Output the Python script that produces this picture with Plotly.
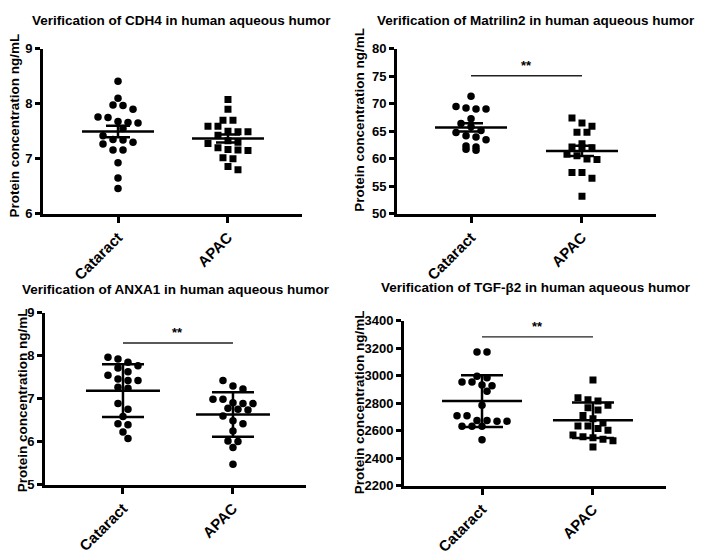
import numpy as np
import plotly.graph_objects as go

# ---------------- data ----------------
categories = ["Cataract", "APAC"]
titles = [
    "Verification of CDH4 in human aqueous humor",
    "Verification of Matrilin2 in human aqueous humor",
    "Verification of ANXA1 in human aqueous humor",
    "Verification of TGF-β2 in human aqueous humor",
]
y_label = "Protein concentration ng/mL"

cdh4_cataract = [8.41, 8.10, 7.98, 7.90, 7.97, 7.68, 7.66, 7.75, 7.76, 7.65, 7.55,
                 7.42, 7.30, 7.34, 7.35, 7.27, 7.16, 7.16, 6.93, 6.65, 6.46]
cdh4_apac = [8.08, 7.90, 7.70, 7.70, 7.59, 7.59, 7.50, 7.49, 7.43, 7.49, 7.30,
             7.33, 7.28, 7.16, 7.20, 7.15, 7.17, 7.02, 7.00, 6.80, 6.86]

matrilin2_cataract = [71.39, 69.52, 69.05, 69.05, 69.23, 67.29, 66.41, 65.83, 64.78,
                      65.13, 63.95, 63.48, 64.18, 62.14, 61.55, 61.73, 62.32]
matrilin2_apac = [67.41, 66.53, 65.94, 64.83, 64.83, 62.72, 62.00, 62.00, 62.14,
                  60.56, 59.86, 59.97, 60.84, 57.50, 56.45, 57.50, 53.18]

anxa1_cataract = [7.93, 7.97, 7.72, 7.85, 7.77, 7.55, 7.63, 7.43, 7.43, 7.46, 7.27,
                  7.25, 6.76, 6.89, 6.59, 6.42, 6.40, 6.23, 6.08]
anxa1_apac = [7.43, 7.30, 7.23, 6.99, 6.91, 6.89, 6.89, 6.99, 6.78, 6.74, 6.60,
              6.76, 6.49, 6.42, 6.25, 6.01, 6.02, 5.87, 5.48]

tgfb2_cataract = [3173, 3173, 2997, 2985, 2955, 2932, 2927, 2955, 2887, 2786, 2709,
                  2709, 2674, 2670, 2633, 2633, 2633, 2670, 2674, 2535]
tgfb2_apac = [2969, 2816, 2840, 2826, 2767, 2786, 2751, 2711, 2688, 2657, 2634,
              2617, 2634, 2603, 2570, 2538, 2528, 2556, 2550, 2482]

y_ticks = [[6, 7, 8, 9], [50, 55, 60, 65, 70, 75, 80], [5, 6, 7, 8, 9],
           [2200, 2400, 2600, 2800, 3000, 3200, 3400]]
error_kind = ["sem", "sem", "sd", "sd"]
significance = [None, "**", "**", "**"]
sig_level = [None, 75.1, 8.30, 3283]

# ---------------- layout geometry (pixels) ----------------
W, H = 709, 555
boxes = [(43, 302, 43, 213), (397, 656, 43, 213), (45, 306, 315, 492), (404, 666, 323, 493)]
x_ranges = [[0.318, 2.673], [0.333, 2.667], [0.291, 2.664], [0.297, 2.658]]
title_pos = [(181, 14), (536, 14), (176, 291), (536, 289)]
ytitle_pos = [(14, 122), (360, 116), (22, 405), (359, 407)]
symbols = [["circle", "square"], ["circle", "square"], ["circle", "circle"], ["circle", "square"]]
cap_px = {"sem": 12, "sd": 21}
mean_half_px = [36, 36, 37, 40]

values = [[cdh4_cataract, cdh4_apac], [matrilin2_cataract, matrilin2_apac],
          [anxa1_cataract, anxa1_apac], [tgfb2_cataract, tgfb2_apac]]

FONT = "Liberation Sans"


def swarm_offsets(vals, ypx, xpx, row_px=9.0, step_px=10.0, diam_px=7.5):
    """Row-based dot-plot layout (GraphPad style) with collision avoidance."""
    v = np.asarray(vals, dtype=float)
    ypos = (v.max() - v) * ypx
    rows = np.floor(ypos / row_px).astype(int)
    off = np.zeros(len(v))
    placed_x, placed_y = [], []
    for r in np.unique(rows):
        idx = np.where(rows == r)[0]
        idx = idx[np.argsort(-v[idx])]
        n = len(idx)
        base = (np.arange(n) - (n - 1) / 2.0) * step_px
        best = base
        for shift in [0, step_px / 2, -step_px / 2, step_px, -step_px, 1.5 * step_px, -1.5 * step_px]:
            cand = base + shift
            ok = True
            for cx, j in zip(cand, idx):
                for px_, py_ in zip(placed_x, placed_y):
                    if np.hypot(cx - px_, ypos[j] - py_) < diam_px:
                        ok = False
                        break
                if not ok:
                    break
            if ok:
                best = cand
                break
        for cx, j in zip(best, idx):
            off[j] = cx / xpx
            placed_x.append(cx)
            placed_y.append(ypos[j])
    return off


fig = go.Figure()
layout = dict(width=W, height=H, margin=dict(l=0, r=0, t=0, b=0),
              paper_bgcolor="white", plot_bgcolor="white", showlegend=False,
              shapes=[], annotations=[])

for i in range(4):
    left, right, top, bottom = boxes[i]
    ax = "" if i == 0 else str(i + 1)
    xref, yref = "x" + ax, "y" + ax
    yr = [y_ticks[i][0], y_ticks[i][-1]]
    xr = x_ranges[i]
    xpx = (right - left) / (xr[1] - xr[0])
    ypx = (bottom - top) / (yr[1] - yr[0])

    layout["xaxis" + ax] = dict(
        domain=[left / W, right / W], anchor=yref, range=xr,
        tickmode="array", tickvals=[1, 2], ticktext=categories,
        tickangle=-45, ticks="outside", ticklen=6, tickwidth=2.5, tickcolor="black",
        showline=True, linecolor="black", linewidth=3, showgrid=False, zeroline=False,
        tickfont=dict(family=FONT, size=15, color="black", weight="bold"), fixedrange=True)
    layout["yaxis" + ax] = dict(
        domain=[1 - bottom / H, 1 - top / H], anchor=xref, range=yr,
        tickmode="array", tickvals=y_ticks[i],
        ticks="outside", ticklen=5, tickwidth=2.5, tickcolor="black",
        showline=True, linecolor="black", linewidth=3, showgrid=False, zeroline=False,
        tickfont=dict(family=FONT, size=13, color="black", weight="bold"), fixedrange=True)

    for g in range(2):
        vals = np.asarray(values[i][g], dtype=float)
        c = g + 1
        off = swarm_offsets(vals, ypx, xpx)
        sym = symbols[i][g]
        fig.add_trace(go.Scatter(
            x=c + off, y=vals, mode="markers", xaxis=xref, yaxis=yref,
            marker=dict(symbol=sym, size=7.5 if sym == "circle" else 7, color="black",
                        line=dict(width=0)),
            hoverinfo="y"))
        m = vals.mean()
        sd = vals.std(ddof=1)
        err = sd / np.sqrt(len(vals)) if error_kind[i] == "sem" else sd
        hw = mean_half_px[i] / xpx
        fig.add_trace(go.Scatter(
            x=[c - hw, c + hw], y=[m, m], mode="lines", xaxis=xref, yaxis=yref,
            line=dict(color="black", width=2.5), hoverinfo="skip"))
        fig.add_trace(go.Scatter(
            x=[c], y=[m], mode="markers", xaxis=xref, yaxis=yref,
            marker=dict(size=1, color="black"),
            error_y=dict(type="data", array=[err], visible=True, color="black",
                         thickness=2.5, width=cap_px[error_kind[i]]),
            hoverinfo="skip"))

    if significance[i]:
        layout["shapes"].append(dict(type="line", xref=xref, yref=yref,
                                     x0=1, x1=2, y0=sig_level[i], y1=sig_level[i],
                                     line=dict(color="#222222", width=1.3)))
        layout["annotations"].append(dict(
            xref=xref, yref=yref, x=1.5, y=sig_level[i], text=significance[i],
            showarrow=False, yanchor="bottom", yshift=1,
            font=dict(family=FONT, size=13, color="black", weight="bold")))

    tx, ty = title_pos[i]
    layout["annotations"].append(dict(
        xref="paper", yref="paper", x=tx / W, y=1 - ty / H, text=titles[i],
        showarrow=False, xanchor="center", yanchor="middle",
        font=dict(family=FONT, size=13.5, color="black", weight="bold")))
    yx, yy = ytitle_pos[i]
    layout["annotations"].append(dict(
        xref="paper", yref="paper", x=yx / W, y=1 - yy / H, text=y_label,
        textangle=-90, showarrow=False, xanchor="center", yanchor="middle",
        font=dict(family=FONT, size=13.5, color="black", weight="bold")))

fig.update_layout(**layout)
fig.write_html("out.html")
